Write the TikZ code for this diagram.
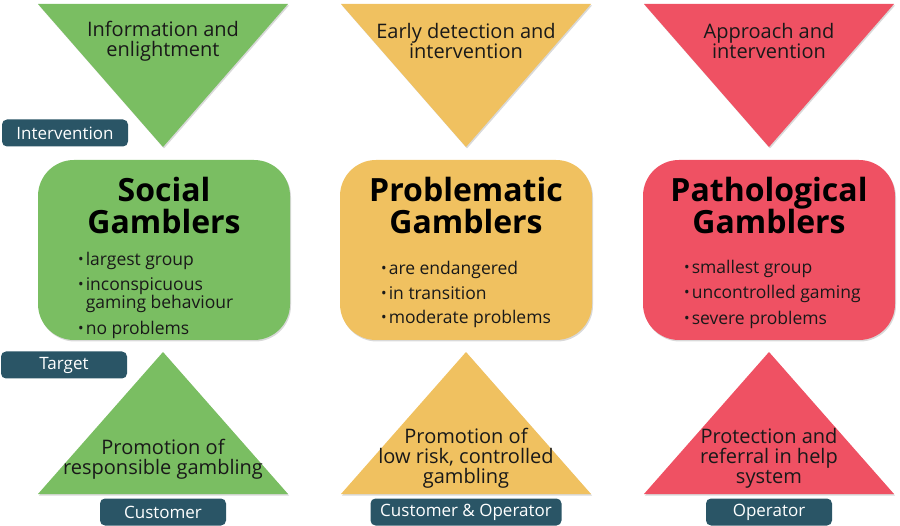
\documentclass[tikz,border=0pt]{standalone}
\usepackage{fontspec}
\setmainfont{Open Sans}
\usepackage{xcolor}
\usepackage{tikz}
\usetikzlibrary{shadows}

\definecolor{socialgreen}{RGB}{122,190,98}
\definecolor{problemyellow}{RGB}{240,193,96}
\definecolor{pathored}{RGB}{239,81,99}
\definecolor{tagteal}{RGB}{42,85,102}
\definecolor{inktext}{RGB}{25,25,25}

\newcommand{\gbullet}{\raisebox{0.1ex}{\scalebox{0.85}{\textbullet}}\kern2pt}

\begin{document}
\begin{tikzpicture}[x=1pt,y=-1pt]
\tikzstyle{wedge} = [drop shadow={opacity=0.3, shadow xshift=1pt, shadow yshift=-1.5pt}]
\tikzstyle{group} = [rectangle, rounded corners=36pt, minimum width=252pt, minimum height=180pt, drop shadow={opacity=0.3, shadow xshift=1pt, shadow yshift=-1.5pt}]
\tikzstyle{title} = [text=black, font=\fontsize{32}{32}\selectfont\bfseries, align=center, inner sep=0pt]
\tikzstyle{points} = [text=inktext, font=\fontsize{17.5}{17}\selectfont, align=left, anchor=west, inner sep=0pt]
\tikzstyle{measure} = [text=inktext, font=\fontsize{20}{20}\selectfont, align=center, inner sep=0pt]
\tikzstyle{tag} = [rectangle, rounded corners=5pt, fill=tagteal, text=white, minimum width=126pt, minimum height=27pt, inner sep=0pt, font=\fontsize{17}{18}\selectfont]

\useasboundingbox (0,0) rectangle (900,526);

% intervention wedges
\fill [socialgreen, wedge] (38,4) -- (288,4) -- (163,147) -- cycle;
\fill [problemyellow, wedge] (341,4) -- (591,4) -- (466,147) -- cycle;
\fill [pathored, wedge] (644,4) -- (894,4) -- (769,147) -- cycle;

\node (infotext) [measure] at (163,41) {Information and\\enlightment};
\node (earlytext) [measure] at (466,41) {Early detection and\\intervention};
\node (approachtext) [measure] at (769,41) {Approach and\\intervention};

% target groups
\node (social) [group, fill=socialgreen] at (164,250) {};
\node (problematic) [group, fill=problemyellow] at (466,250) {};
\node (pathological) [group, fill=pathored] at (769,250) {};

\node (socialtitle) [title] at (164,206) {Social\\Gamblers};
\node (problemtitle) [title] at (466,206) {Problematic\\Gamblers};
\node (pathotitle) [title] at (769,206) {Pathological\\Gamblers};

\node (socialpts) [points] at (78,295) {\gbullet largest group\\[7pt]\gbullet inconspicuous\\\phantom{\gbullet}gaming behaviour\\[7pt]\gbullet no problems};
\node (problempts) [points] at (381,294) {\gbullet are endangered\\[7pt]\gbullet in transition\\[7pt]\gbullet moderate problems};
\node (pathopts) [points] at (684,294) {\gbullet smallest group\\[7pt]\gbullet uncontrolled gaming\\[7pt]\gbullet severe problems};

% measures
\fill [socialgreen, wedge] (163,352) -- (288,494) -- (38,494) -- cycle;
\fill [problemyellow, wedge] (466,352) -- (591,494) -- (341,494) -- cycle;
\fill [pathored, wedge] (769,352) -- (894,494) -- (644,494) -- cycle;

\node (promotext) [measure] at (163,459) {Promotion of\\responsible gambling};
\node (lowrisktext) [measure] at (466,458) {Promotion of\\low risk, controlled\\gambling};
\node (protecttext) [measure] at (769,458) {Protection and\\referral in help\\system};

% row and column tags
\node (intervention) [tag] at (65,133) {Intervention};
\node (target) [tag] at (64,365) {Target};
\node (customer) [tag] at (163,512) {Customer};
\node (custop) [tag, minimum width=191pt] at (466,512) {Customer \& Operator};
\node (operator) [tag] at (769,512) {Operator};

\end{tikzpicture}
\end{document}
